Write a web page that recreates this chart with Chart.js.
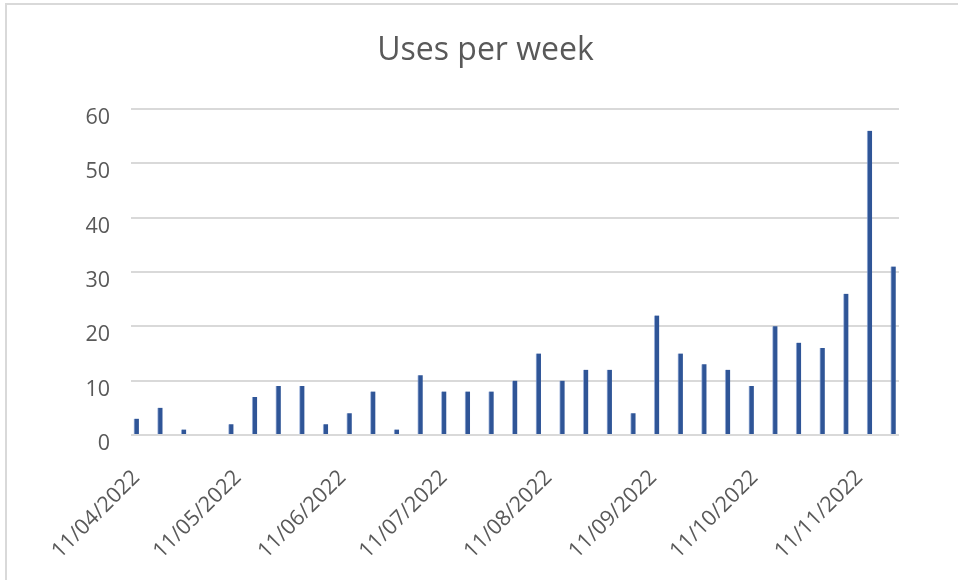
<!DOCTYPE html>
<html>
<head>
<meta charset="utf-8">
<script src="https://cdn.jsdelivr.net/npm/chart.js@4.4.1/dist/chart.umd.min.js"></script>
<style>
  html, body { margin: 0; padding: 0; background: #ffffff; overflow: hidden; }
  #wrap { position: relative; width: 958px; height: 580px; overflow: hidden; }
  #frame { position: absolute; left: 5px; top: 3px; width: 1000px; height: 1000px;
           border: 2px solid #d9d9d9; box-sizing: border-box; pointer-events: none; }
  canvas { position: absolute; left: 0; top: 0; }
</style>
</head>
<body>
<div id="wrap">
  <canvas id="c" width="958" height="580"></canvas>
  <div id="frame"></div>
</div>
<script>
// Week starting dates (categories)
const weeks = [
  '2022-04-11','2022-04-18','2022-04-25',
  '2022-05-02','2022-05-09','2022-05-16','2022-05-23','2022-05-30',
  '2022-06-06','2022-06-13','2022-06-20','2022-06-27',
  '2022-07-04','2022-07-11','2022-07-18','2022-07-25',
  '2022-08-01','2022-08-08','2022-08-15','2022-08-22','2022-08-29',
  '2022-09-05','2022-09-12','2022-09-19','2022-09-26',
  '2022-10-03','2022-10-10','2022-10-17','2022-10-24','2022-10-31',
  '2022-11-07','2022-11-14','2022-11-21'
];
// Uses per week
const uses = [3,5,1,0,2,7,9,9,2,4,8,1,11,8,8,8,10,15,10,12,12,4,22,15,13,12,9,20,17,16,26,56,31];
// Axis tick dates and labels
const tickDates = ['2022-04-11','2022-05-11','2022-06-11','2022-07-11','2022-08-11','2022-09-11','2022-10-11','2022-11-11'];
const tickLabels = ['11/04/2022','11/05/2022','11/06/2022','11/07/2022','11/08/2022','11/09/2022','11/10/2022','11/11/2022'];
const yTicks = [0,10,20,30,40,50,60];

const base = Date.parse(weeks[0]);
const dayOf = s => Math.round((Date.parse(s) - base) / 86400000);
const points = weeks.map((w, i) => ({ x: dayOf(w), y: uses[i] }));
const tickDays = tickDates.map(dayOf);

const TXT = '#595959';
const FONT = '"Open Sans", "Noto Sans", sans-serif';

new Chart(document.getElementById('c'), {
  type: 'bar',
  data: {
    datasets: [{
      label: 'Uses',
      data: points,
      backgroundColor: '#2F5597',
      borderColor: 'rgba(120,150,205,0.7)',
      borderWidth: { left: 1, right: 0, top: 0, bottom: 0 },
      barThickness: 5
    }]
  },
  options: {
    responsive: false,
    animation: false,
    layout: { padding: { left: 13, right: 0, top: 0, bottom: 0 } },
    plugins: {
      legend: { display: false },
      tooltip: { enabled: false },
      title: {
        display: true,
        text: 'Uses per week',
        color: TXT,
        font: { family: FONT, size: 32, weight: 'normal' },
        padding: { top: 32, bottom: 38.6 }
      }
    },
    scales: {
      x: {
        type: 'linear',
        offset: false,
        min: -1.6,
        max: 225.7,
        grid: { display: false, offset: false },
        border: { display: false },
        afterBuildTicks: s => { s.ticks = tickDays.map(v => ({ value: v })); },
        afterFit: s => { s.height = 145; },
        ticks: {
          autoSkip: false,
          minRotation: 45,
          maxRotation: 45,
          padding: 22,
          color: TXT,
          font: { family: FONT, size: 21.5 },
          callback: v => tickLabels[tickDays.indexOf(v)] ?? ''
        }
      },
      y: {
        min: 0,
        max: 60,
        afterBuildTicks: s => { s.ticks = yTicks.map(v => ({ value: v })); },
        afterFit: s => { s.width = 118; },
        grid: { color: '#d9d9d9', lineWidth: 2, drawTicks: false },
        border: { display: false },
        ticks: {
          padding: 21,
          labelOffset: 9,
          color: TXT,
          font: { family: FONT, size: 21.5 }
        }
      },
      yR: {
        position: 'right',
        display: true,
        grid: { display: false, drawTicks: false },
        border: { display: false },
        ticks: { display: false },
        afterFit: s => { s.width = 59; }
      }
    }
  }
});
</script>
</body>
</html>
